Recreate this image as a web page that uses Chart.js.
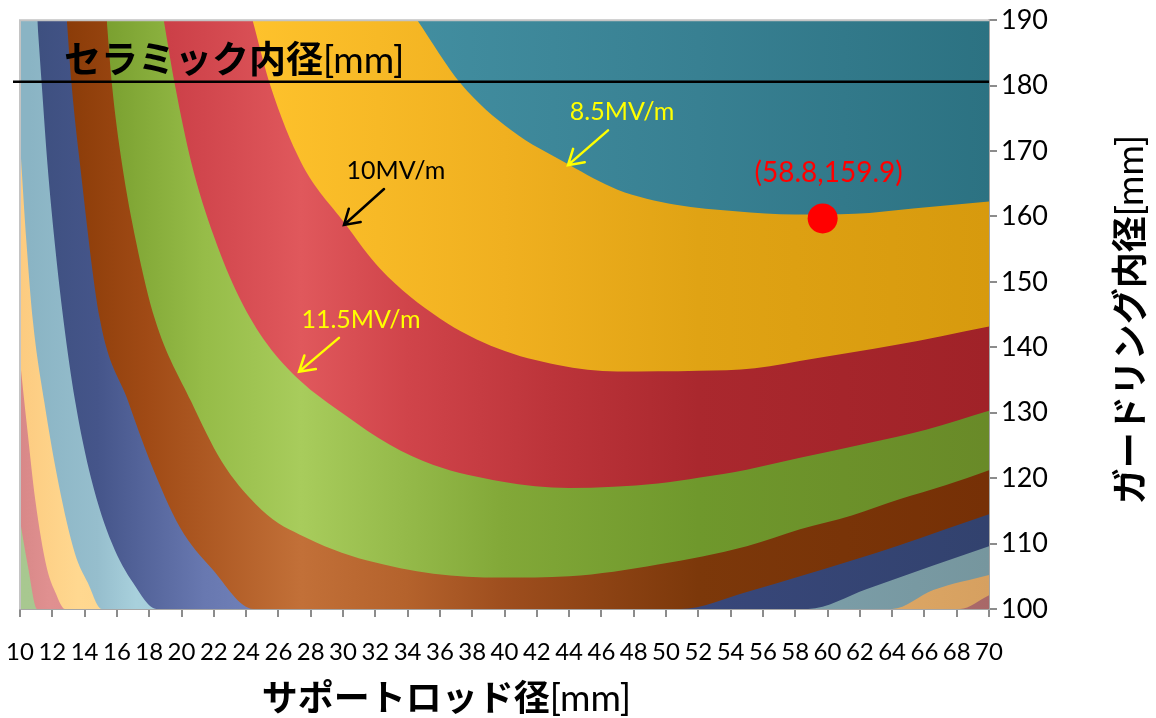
<!DOCTYPE html>
<html>
<head>
<meta charset="utf-8">
<script src="https://cdn.jsdelivr.net/npm/chart.js@4.4.1/dist/chart.umd.min.js"></script>
<style>
  html, body { margin: 0; padding: 0; background: #fff; }
  #wrap { width: 1156px; height: 718px; }
</style>
</head>
<body>
<div id="wrap"><canvas id="surfaceChart" width="1156" height="718"></canvas></div>
<script>
// 等高線の境界 (x: サポートロッド径[mm], y: ガードリング内径[mm])
// 8.5MV/m
const x85 = [34.6, 37.3, 40.4, 44.0, 47.0, 50.6, 54.3, 58.0, 61.7, 65.3, 70];
const y85 = [190, 180.3, 173.2, 167.9, 164.1, 161.8, 160.8, 160.3, 160.4, 161.2, 162.3];
// 10MV/m
const x100 = [24.4, 25.5, 27.4, 30.1, 32.3, 36.0, 39.6, 43.3, 47.0, 52.0, 55.5, 59.2, 64.1, 70];
const y100 = [190, 180, 168.3, 159.0, 152.0, 144.4, 139.8, 137.3, 136.3, 136.4, 136.8, 138.3, 140.3, 143.2];
// 11.5MV/m
const x115 = [18.9, 19.6, 20.6, 22.0, 23.6, 25.3, 27.3, 30.1, 32.9, 35.6, 39.8, 44.0, 49.5, 52.1, 55.0, 58.3, 62.4, 66.1, 70];
const y115 = [190, 180, 168.3, 157.0, 147.5, 140.5, 135.0, 129.7, 125.1, 122.0, 119.5, 118.5, 119.2, 120.1, 121.3, 123.1, 125.3, 127.4, 130.3];
// 13MV/m
const x130 = [15.37, 15.7, 16.3, 17.2, 18.36, 20.6, 22.5, 24.6, 26.0, 27.3, 29.4, 31.5, 35.6, 39.8, 44.0, 49.5, 55.0, 58.3, 61.5, 64.5, 67.3, 70];
const y130 = [190, 180, 168.3, 156.0, 144.25, 131.7, 122.5, 116.0, 113.1, 111.4, 109.1, 107.4, 105.4, 104.8, 105.0, 106.8, 109.6, 112.2, 114.3, 116.8, 118.9, 121.2];
// 14.5MV/m
const x145 = [12.9, 13.2, 13.7, 14.95, 16.7, 18.05, 19.9, 21.9, 24.45, 50.9, 55.0, 58.3, 61.5, 64.5, 67.3, 70];
const y145 = [190, 180, 168.3, 144.25, 131.7, 122.6, 112.5, 106.1, 100, 100, 102.6, 105.0, 107.4, 109.8, 112.2, 114.5];
// 16MV/m
const x160 = [11.07, 11.35, 11.7, 12.15, 12.7, 13.4, 14.4, 15.7, 17.0, 18.46, 58.8, 62.4, 66.5, 70];
const y160 = [190, 180, 168, 156, 144, 132, 120, 110, 104, 100, 100, 103.0, 106.6, 109.6];
// 17.5MV/m
const x175 = [10, 10.4, 10.8, 11.5, 12.4, 13.4, 14.2, 15.06, 64.0, 66.55, 70];
const y175 = [171.3, 156, 144, 131.7, 119, 108.5, 104, 100, 100, 102.9, 105.2];
// 19MV/m
const x190 = [10, 10.45, 10.95, 11.65, 12.2, 12.79, 68.2, 70];
const y190 = [138, 127.5, 116.6, 106.4, 102.5, 100, 100, 102.1];
// 20.5MV/m
const x205 = [10, 10.5, 11.07, 70];
const y205 = [113.5, 106.4, 100, 100];

// 最適点
const bestX = [59.7];
const bestY = [159.7];

// 軸
const xTicks = { min: 10, max: 70, step: 2 };
const yTicks = { min: 100, max: 190, step: 5 };

// 色 (横方向の陰影: [プロット幅に対する位置, 色])
const bandColors = [
    [[0.40, 'rgb(66,142,160)'], [0.70, 'rgb(56,128,146)'], [1, 'rgb(44,114,130)']],                       // ~8.5
    [[0.24, 'rgb(254,194,44)'], [0.50, 'rgb(240,176,32)'], [0.70, 'rgb(224,163,20)'], [1, 'rgb(215,154,14)']], // 8.5-10
    [[0.155, 'rgb(204,64,72)'], [0.29, 'rgb(224,88,92)'], [0.40, 'rgb(208,68,74)'], [0.55, 'rgb(188,52,58)'],
     [0.70, 'rgb(170,40,46)'], [1, 'rgb(160,34,40)']],                                                        // 10-11.5
    [[0.09, 'rgb(122,160,48)'], [0.19, 'rgb(150,188,72)'], [0.29, 'rgb(168,204,92)'], [0.50, 'rgb(130,168,56)'],
     [0.70, 'rgb(111,152,44)'], [1, 'rgb(105,138,40)']],                                                      // 11.5-13
    [[0.05, 'rgb(139,60,8)'], [0.13, 'rgb(160,74,21)'], [0.29, 'rgb(194,112,56)'], [0.40, 'rgb(180,98,44)'],
     [0.50, 'rgb(158,78,30)'], [0.70, 'rgb(124,56,10)'], [1, 'rgb(118,48,6)']],                              // 13-14.5
    [[0.02, 'rgb(62,80,128)'], [0.08, 'rgb(69,85,138)'], [0.19, 'rgb(104,120,176)'], [0.24, 'rgb(112,128,184)'],
     [0.45, 'rgb(80,95,150)'], [0.70, 'rgb(56,71,122)'], [1, 'rgb(50,66,110)']],                             // 14.5-16
    [[0.01, 'rgb(138,180,196)'], [0.08, 'rgb(150,190,205)'], [0.12, 'rgb(168,208,220)'], [0.60, 'rgb(140,176,188)'],
     [0.85, 'rgb(122,156,166)'], [1, 'rgb(118,150,158)']],                                                    // 16-17.5
    [[0, 'rgb(252,203,128)'], [0.06, 'rgb(255,216,144)'], [0.90, 'rgb(220,166,100)'], [1, 'rgb(214,160,96)']], // 17.5-19
    [[0, 'rgb(216,136,136)'], [0.03, 'rgb(224,144,144)'], [0.95, 'rgb(172,106,108)'], [1, 'rgb(168,104,104)']] // 19-20.5
];
const outerColor = [[0, 'rgb(168,200,144)'], [1, 'rgb(160,190,136)']];

const borders = [[x85, y85], [x100, y100], [x115, y115], [x130, y130], [x145, y145],
                 [x160, y160], [x175, y175], [x190, y190], [x205, y205]];

// 面の陰影を横方向のグラデーションで近似
function shade(chart, stops) {
    const a = chart.chartArea;
    if (!a) return stops[stops.length - 1][1];
    const g = chart.ctx.createLinearGradient(a.left, 0, a.right, 0);
    stops.forEach(s => g.addColorStop(s[0], s[1]));
    return g;
}

const datasets = [{
    label: 'best',
    data: bestX.map((v, i) => ({ x: v, y: bestY[i] })),
    showLine: false,
    pointRadius: 15,
    pointHoverRadius: 15,
    pointBackgroundColor: '#ff0000',
    pointBorderWidth: 0,
    fill: false
}];
borders.forEach((b, i) => {
    const c = bandColors[i];
    datasets.push({
        label: 'band' + i,
        data: b[0].map((v, k) => ({ x: v, y: b[1][k] })),
        borderWidth: 0,
        pointRadius: 0,
        cubicInterpolationMode: 'monotone',
        fill: 'end',
        backgroundColor: ctx => shade(ctx.chart, c)
    });
});

// 注記
const notes = [
    { text: '8.5MV/m', color: '#ffff00', at: [47.28, 176.0], from: [46.41, 173.16], to: [43.93, 167.85] },
    { text: '10MV/m', color: '#000000', at: [33.28, 167.0], from: [32.54, 164.2], to: [30.06, 158.7] },
    { text: '11.5MV/m', color: '#ffff00', at: [31.11, 144.17], from: [29.75, 141.44], to: [27.28, 136.28] }
];
const ceramicLine = 180.6;

function drawMixed(ctx, parts, x, y, align) {
    let total = 0;
    parts.forEach(p => { ctx.font = p.font; total += ctx.measureText(p.text).width; });
    let cx = align === 'center' ? x - total / 2 : x;
    ctx.textAlign = 'left';
    parts.forEach(p => {
        ctx.font = p.font;
        ctx.fillText(p.text, cx, y);
        cx += ctx.measureText(p.text).width;
    });
}

function arrow(ctx, x1, y1, x2, y2, color) {
    const ang = Math.atan2(y2 - y1, x2 - x1);
    const len = 17, spread = 0.55;
    ctx.strokeStyle = color;
    ctx.lineWidth = 2.5;
    ctx.lineCap = 'round';
    ctx.beginPath();
    ctx.moveTo(x1, y1);
    ctx.lineTo(x2, y2);
    ctx.moveTo(x2 - len * Math.cos(ang - spread), y2 - len * Math.sin(ang - spread));
    ctx.lineTo(x2, y2);
    ctx.lineTo(x2 - len * Math.cos(ang + spread), y2 - len * Math.sin(ang + spread));
    ctx.stroke();
}

const decor = {
    id: 'decor',
    beforeDatasetsDraw(chart) {
        const { ctx, chartArea: a } = chart;
        ctx.save();
        ctx.fillStyle = shade(chart, outerColor);
        ctx.fillRect(a.left, a.top, a.right - a.left, a.bottom - a.top);
        ctx.restore();
    },
    afterDatasetsDraw(chart) {
        const { ctx, chartArea: a } = chart;
        ctx.save();
        ctx.strokeStyle = '#c4c4c4';
        ctx.lineWidth = 2;
        ctx.beginPath();
        ctx.moveTo(a.left, a.bottom);
        ctx.lineTo(a.left, a.top);
        ctx.lineTo(a.right, a.top);
        ctx.stroke();
        ctx.restore();
    },
    afterDraw(chart) {
        const { ctx, chartArea: a, scales } = chart;
        const sx = scales.x, sy = scales.y;
        ctx.save();

        // セラミック内径の線
        const ly = sy.getPixelForValue(ceramicLine);
        ctx.strokeStyle = '#000';
        ctx.lineWidth = 2.5;
        ctx.beginPath();
        ctx.moveTo(a.left - 7, ly);
        ctx.lineTo(a.right, ly);
        ctx.stroke();

        ctx.fillStyle = '#000';
        ctx.textBaseline = 'alphabetic';
        drawMixed(ctx, [
            { text: 'セラミック内径', font: 'bold 37px "Noto Sans CJK JP"' },
            { text: '[mm]', font: '37px Lato' }
        ], a.left + 44, ly - 9, 'left');

        // 注記と矢印
        notes.forEach(n => {
            ctx.fillStyle = n.color;
            ctx.font = '25px Lato';
            ctx.textAlign = 'center';
            ctx.textBaseline = 'middle';
            ctx.fillText(n.text, sx.getPixelForValue(n.at[0]), sy.getPixelForValue(n.at[1]));
            arrow(ctx, sx.getPixelForValue(n.from[0]), sy.getPixelForValue(n.from[1]),
                  sx.getPixelForValue(n.to[0]), sy.getPixelForValue(n.to[1]), n.color);
        });

        // 最適点ラベル
        ctx.fillStyle = '#ff0000';
        ctx.font = '28px Lato';
        ctx.textAlign = 'center';
        ctx.textBaseline = 'middle';
        ctx.fillText('(58.8,159.9)', sx.getPixelForValue(bestX[0]) + 6, sy.getPixelForValue(bestY[0]) - 45);

        // 軸タイトル
        ctx.fillStyle = '#000';
        ctx.textBaseline = 'alphabetic';
        drawMixed(ctx, [
            { text: 'サポートロッド径', font: 'bold 36px "Noto Sans CJK JP"' },
            { text: '[mm]', font: '37px Lato' }
        ], a.left + 0.44 * (a.right - a.left), chart.height - 7, 'center');

        ctx.translate(chart.width - 13, (a.top + a.bottom) / 2 + 5);
        ctx.rotate(-Math.PI / 2);
        drawMixed(ctx, [
            { text: 'ガードリング内径', font: 'bold 36px "Noto Sans CJK JP"' },
            { text: '[mm]', font: '37px Lato' }
        ], 0, 0, 'center');
        ctx.restore();
    }
};

new Chart(document.getElementById('surfaceChart').getContext('2d'), {
    type: 'line',
    data: { datasets: datasets },
    options: {
        responsive: false,
        animation: false,
        layout: { padding: { left: 20, top: 16, right: 0, bottom: 0 } },
        plugins: {
            legend: { display: false },
            tooltip: { enabled: false }
        },
        scales: {
            x: {
                type: 'linear',
                position: 'bottom',
                min: xTicks.min,
                max: xTicks.max,
                z: 1,
                ticks: {
                    stepSize: xTicks.step,
                    autoSkip: false,
                    maxRotation: 0,
                    color: '#000',
                    padding: 21,
                    font: { family: 'Lato', size: 24 }
                },
                grid: { drawOnChartArea: false, tickLength: 8, color: '#8c8c8c', lineWidth: 2 },
                border: { color: '#a6a6a6', width: 2 },
                afterFit: s => { s.height = 109; s.paddingLeft = 0; s.paddingRight = 0; }
            },
            y: {
                type: 'linear',
                position: 'right',
                min: yTicks.min,
                max: yTicks.max,
                z: 1,
                ticks: {
                    stepSize: yTicks.step,
                    color: '#000',
                    padding: 4,
                    font: { family: 'Lato', size: 27 },
                    callback: v => (v % 10 === 0 ? v : '')
                },
                grid: { drawOnChartArea: false, tickLength: 8, color: '#8c8c8c', lineWidth: 2 },
                border: { color: '#a6a6a6', width: 2 },
                afterFit: s => { s.width = 167; }
            }
        }
    },
    plugins: [decor]
});
</script>
</body>
</html>
